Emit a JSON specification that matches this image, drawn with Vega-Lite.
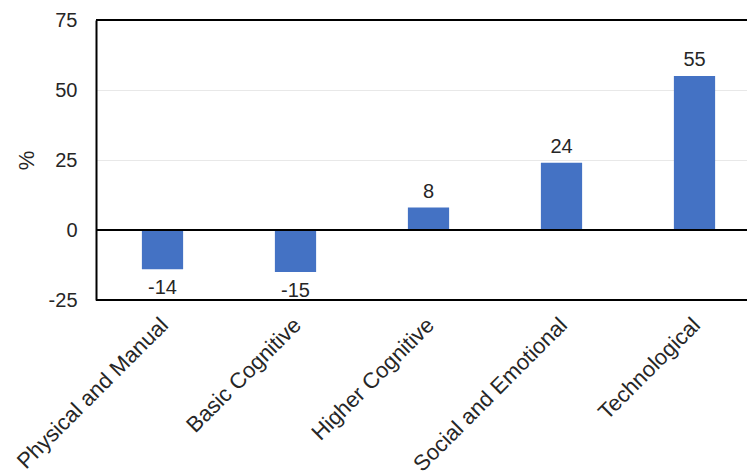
{
  "$schema": "https://vega.github.io/schema/vega-lite/v6.json",
  "autosize": {"type": "none"},
  "padding": {"left": 96, "top": 20, "right": 0, "bottom": 176},
  "width": 651,
  "height": 280,
  "background": "white",
  "config": {"view": {"stroke": null}, "font": "Liberation Sans"},
  "data": {"values": [
    {"skill": "Physical and Manual", "value": -14, "label": "-14"},
    {"skill": "Basic Cognitive", "value": -15, "label": "-15"},
    {"skill": "Higher Cognitive", "value": 8, "label": "8"},
    {"skill": "Social and Emotional", "value": 24, "label": "24"},
    {"skill": "Technological", "value": 55, "label": "55"}
  ]},
  "encoding": {
    "x": {"field": "skill", "type": "nominal", "sort": null,
      "scale": {"range": [0, 665], "paddingInner": 0, "paddingOuter": 0},
      "axis": {"title": null, "labelAngle": -45, "labelFontSize": 22, "labelColor": "#262626", "labelPadding": 14, "labelOffset": -5, "ticks": false, "domain": false, "labelLimit": 300}}
  },
  "layer": [
    {
      "mark": {"type": "bar", "color": "#4472C4", "width": {"band": 0.31}},
      "encoding": {
        "y": {"field": "value", "type": "quantitative",
          "scale": {"domain": [-25, 75], "nice": false, "zero": false},
          "axis": {"title": "%", "titleFontSize": 22, "titleFontWeight": "normal", "titleColor": "#262626", "titlePadding": 10,
            "values": [-25, 0, 25, 50, 75], "labelExpr": "'' + datum.value", "labelFontSize": 20, "labelColor": "#262626", "labelPadding": 19, "ticks": false,
            "domainColor": "#000000", "domainWidth": 2, "gridColor": "#e8e8e8", "gridWidth": 1}}
      }
    },
    {
      "transform": [{"filter": "datum.value >= 0"}],
      "mark": {"type": "text", "baseline": "bottom", "dy": -6, "fontSize": 20, "color": "#262626"},
      "encoding": {"y": {"field": "value", "type": "quantitative"}, "text": {"field": "label", "type": "nominal"}}
    },
    {
      "transform": [{"filter": "datum.value < 0"}],
      "mark": {"type": "text", "baseline": "top", "dy": 9, "fontSize": 20, "color": "#262626"},
      "encoding": {"y": {"field": "value", "type": "quantitative"}, "text": {"field": "label", "type": "nominal"}}
    },
    {
      "data": {"values": [{"v": 75}, {"v": 0}, {"v": -25}]},
      "mark": {"type": "rule", "color": "#000000", "strokeWidth": 2},
      "encoding": {"x": null, "y": {"field": "v", "type": "quantitative"}}
    }
  ]
}
